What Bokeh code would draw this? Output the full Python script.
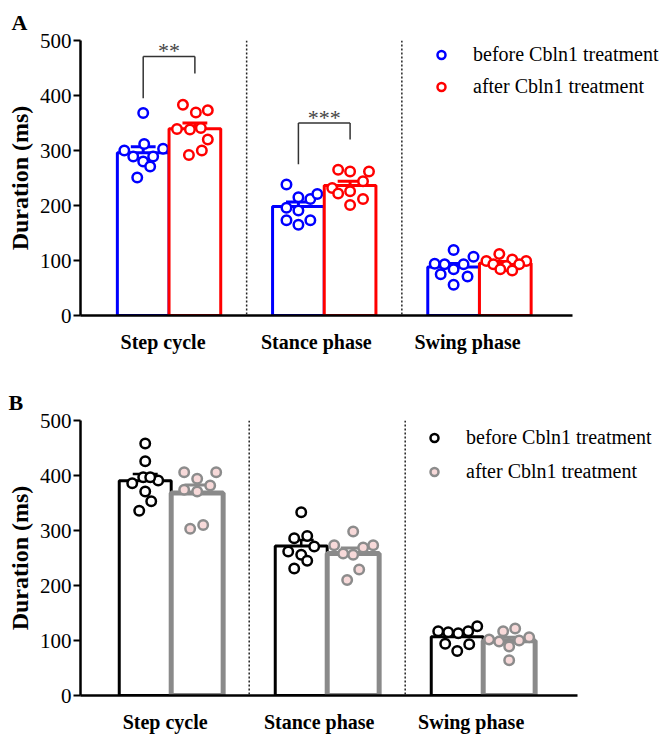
import numpy as np
from bokeh.plotting import figure
from bokeh.models import Range1d, FixedTicker, Span, Legend, LegendItem
from bokeh.layouts import column
from bokeh.core.properties import value
from bokeh.embed import file_html
from bokeh.resources import INLINE

CATEGORIES = ["Step cycle", "Stance phase", "Swing phase"]
Y_TICKS = [0, 100, 200, 300, 400, 500]

# Panel A (ms)
A_BEFORE_STEP = [368, 300, 312, 303, 289, 289, 280, 271, 251]
A_BEFORE_STANCE = [238, 215, 212, 221, 196, 191, 173, 165, 173]
A_BEFORE_SWING = [119, 107, 94, 93, 93, 84, 75, 71, 56]
A_AFTER_STEP = [383, 369, 373, 339, 338, 341, 320, 292, 300]
A_AFTER_STANCE = [265, 262, 262, 244, 232, 222, 226, 212, 201]
A_AFTER_SWING = [112, 99, 102, 99, 93, 90, 93, 84, 82]

# Panel B (ms)
B_BEFORE_STEP = [458, 426, 386, 391, 371, 353, 336, 397, 397]
B_BEFORE_STANCE = [333, 286, 290, 271, 262, 256, 245, 231]
B_BEFORE_SWING = [117, 115, 113, 117, 126, 94, 93, 81]
B_AFTER_STEP = [406, 394, 406, 374, 371, 382, 303, 310]
B_AFTER_STANCE = [298, 273, 269, 273, 258, 256, 229, 210]
B_AFTER_SWING = [117, 122, 102, 98, 89, 100, 106, 64]

# horizontal jitter of the dots (pixels)
JA_BEFORE = [[0, -19, 1, 20, -10, 10, 0, 7, -6],
             [-12, 0, 12, 19, -12, 0, -12, 0, 12],
             [0, 20, -19, -9, 10, 0, -13, 14, 0]]
JA_AFTER = [[-12, 1, 13, -18, -5, 6, 13, -6, 7],
            [-12, 0, 19, 13, -18, -12, 0, 13, 0],
            [-6, -19, 7, 21, -12, 1, 14, -5, 7]]
JB_BEFORE = [[0, 0, -13, 13, 0, 6, -6, -2, 5],
             [0, -7, 6, 13, -13, 0, 6, -7],
             [-19, -9, 1, 11, 20, -12, 12, 0]]
JB_AFTER = [[-13, 0, 19, -13, 0, 13, -7, 6],
            [0, -19, 10, 20, -10, 0, 6, -6],
            [-6, 6, -20, -10, 0, 10, 20, 0]]

# category label shift (pixels, labels sit slightly left of group centre)
LABEL_SHIFT = [-6, -8, -12]

# significance brackets (panel A)
SIG_GROUP = [1, 2]
SIG_TOP = [471, 350]
SIG_LEG_BEFORE = [395, 275]
SIG_LEG_AFTER = [440, 320]
SIG_TEXT = ["**", "***"]
STAR_GAP_PX = 6

LEGEND_LABELS = ["before Cbln1 treatment", "after Cbln1 treatment"]

SERIF = "Liberation Serif"
PX_PER_UNIT = 156.0
PX_PER_MS = 275.0 / 500.0
BAR_W = 0.333
AXIS_END = 3.6026
W = 666


def sem(v):
    v = np.asarray(v, float)
    return v.std(ddof=1) / np.sqrt(len(v))


def make_panel(letter, before, after, jb, ja, st, x_start, left_border,
               height, top_border, bottom_border, legend_xy, legend_spacing,
               label_standoff, brackets=False):
    x_end = x_start + (W - left_border) / PX_PER_UNIT
    p = figure(width=W, height=height, output_backend="svg",
               toolbar_location=None,
               x_range=Range1d(x_start, x_end), y_range=Range1d(0, 500),
               min_border_left=left_border, min_border_right=0,
               min_border_top=top_border, min_border_bottom=bottom_border)
    p.outline_line_color = None
    p.xgrid.grid_line_color = None
    p.ygrid.grid_line_color = None
    p.background_fill_color = "white"
    p.border_fill_color = "white"

    # panel letter as title
    p.title.text = letter
    p.title.align = "left"
    p.title.offset = -(left_border - 8)
    p.title.text_font = SERIF
    p.title.text_font_style = "bold"
    p.title.text_font_size = "22px"
    p.title.text_color = "black"
    p.title.standoff = 12

    # separators
    for loc in [1.5, 2.5]:
        p.add_layout(Span(location=loc, dimension="height", line_color="#222222",
                          line_width=1.5, line_dash="2 2"))

    groups = [1, 2, 3]
    renderers = []
    for side, data, jit, s in [(-1, before, jb, st[0]), (1, after, ja, st[1])]:
        xs = [g + side * BAR_W / 2 for g in groups]
        means = [float(np.mean(d)) for d in data]
        sems = [sem(d) for d in data]
        tops = [m + e for m, e in zip(means, sems)]
        p.vbar(x=xs, top=means, bottom=0, width=BAR_W, fill_color="white",
               line_color=s["bar"], line_width=s["bar_w"])
        # error bars (upper SEM)
        p.segment(x0=xs, y0=means, x1=xs, y1=tops,
                  line_color=s["bar"], line_width=s["err_w"])
        p.segment(x0=[x - 0.08 for x in xs], y0=tops,
                  x1=[x + 0.08 for x in xs], y1=tops,
                  line_color=s["bar"], line_width=s["err_w"])
        px, py = [], []
        for x, d, j in zip(xs, data, jit):
            px += [x + jj / PX_PER_UNIT for jj in j]
            py += list(d)
        r = p.scatter(px, py, size=9.5, marker="circle", fill_color=s["fill"],
                      line_color=s["dot"], line_width=2.5)
        renderers.append(r)

    if brackets:
        bx0 = [g - BAR_W / 2 for g in SIG_GROUP]
        bx1 = [g + BAR_W / 2 for g in SIG_GROUP]
        # left legs, top bars, right legs
        p.segment(x0=bx0, y0=SIG_LEG_BEFORE, x1=bx0, y1=SIG_TOP,
                  line_color="#333333", line_width=1.5)
        p.segment(x0=bx0, y0=SIG_TOP, x1=bx1, y1=SIG_TOP,
                  line_color="#333333", line_width=1.5)
        p.segment(x0=bx1, y0=SIG_TOP, x1=bx1, y1=SIG_LEG_AFTER,
                  line_color="#333333", line_width=1.5)
        p.text(x=SIG_GROUP, y=[t + STAR_GAP_PX / PX_PER_MS for t in SIG_TOP],
               text=SIG_TEXT, text_align="center", text_baseline="alphabetic",
               text_font=value(SERIF), text_font_size="22px", text_color="#444444")

    # axes
    p.xaxis.bounds = (x_start, AXIS_END)
    p.xaxis.ticker = FixedTicker(ticks=[g + d / PX_PER_UNIT for g, d in zip(groups, LABEL_SHIFT)])
    p.xaxis.major_label_overrides = {g + d / PX_PER_UNIT: c
                                     for g, d, c in zip(groups, LABEL_SHIFT, CATEGORIES)}
    p.xaxis.major_tick_line_color = None
    p.xaxis.minor_tick_line_color = None
    p.xaxis.major_tick_out = 0
    p.xaxis.major_label_standoff = label_standoff
    p.xaxis.major_label_text_font = SERIF
    p.xaxis.major_label_text_font_style = "bold"
    p.xaxis.major_label_text_font_size = "20px"
    p.xaxis.major_label_text_color = "black"
    p.xaxis.axis_line_width = 2.5
    p.xaxis.axis_line_color = "black"

    p.yaxis.ticker = FixedTicker(ticks=Y_TICKS)
    p.yaxis.minor_tick_line_color = None
    p.yaxis.major_tick_in = 0
    p.yaxis.major_tick_out = 7
    p.yaxis.major_tick_line_width = 2
    p.yaxis.major_tick_line_color = "black"
    p.yaxis.axis_line_width = 2.5
    p.yaxis.axis_line_color = "black"
    p.yaxis.major_label_standoff = 2
    p.yaxis.major_label_text_font = SERIF
    p.yaxis.major_label_text_font_size = "21px"
    p.yaxis.major_label_text_color = "black"
    p.yaxis.axis_label = "Duration (ms)"
    p.yaxis.axis_label_text_font = SERIF
    p.yaxis.axis_label_text_font_style = "bold"
    p.yaxis.axis_label_text_font_size = "24px"
    p.yaxis.axis_label_text_color = "black"
    p.yaxis.axis_label_standoff = 4

    legend = Legend(items=[LegendItem(label=LEGEND_LABELS[0], renderers=[renderers[0]]),
                           LegendItem(label=LEGEND_LABELS[1], renderers=[renderers[1]])],
                    location=legend_xy, orientation="vertical",
                    border_line_color=None, background_fill_alpha=0,
                    padding=0, margin=0, spacing=legend_spacing,
                    glyph_width=20, glyph_height=25, label_height=25,
                    label_standoff=22, label_text_font=SERIF,
                    label_text_font_size="20px", label_text_color="black",
                    label_text_baseline="middle")
    p.add_layout(legend, "center")
    return p


style_a = [dict(bar="#0000FF", dot="#0000FF", fill="white", bar_w=3, err_w=3),
           dict(bar="#FF0000", dot="#FF0000", fill="white", bar_w=3, err_w=3)]
style_b = [dict(bar="black", dot="black", fill="white", bar_w=3, err_w=2.5),
           dict(bar="#8a8a8a", dot="#8c8c8c", fill="#f7d9d9", bar_w=5, err_w=3)]

pa = make_panel("A", [A_BEFORE_STEP, A_BEFORE_STANCE, A_BEFORE_SWING],
                [A_AFTER_STEP, A_AFTER_STANCE, A_AFTER_SWING],
                JA_BEFORE, JA_AFTER, style_a, x_start=0.4295, left_border=77,
                height=380, top_border=40, bottom_border=65,
                legend_xy=(351, 216), legend_spacing=7, label_standoff=15,
                brackets=True)
pb = make_panel("B", [B_BEFORE_STEP, B_BEFORE_STANCE, B_BEFORE_SWING],
                [B_AFTER_STEP, B_AFTER_STANCE, B_AFTER_SWING],
                JB_BEFORE, JB_AFTER, style_b, x_start=0.4186, left_border=80,
                height=355, top_border=40, bottom_border=40,
                legend_xy=(344, 211), legend_spacing=9, label_standoff=15)

layout = column(pa, pb, spacing=0)
open("out.html", "w").write(file_html(layout, INLINE))
